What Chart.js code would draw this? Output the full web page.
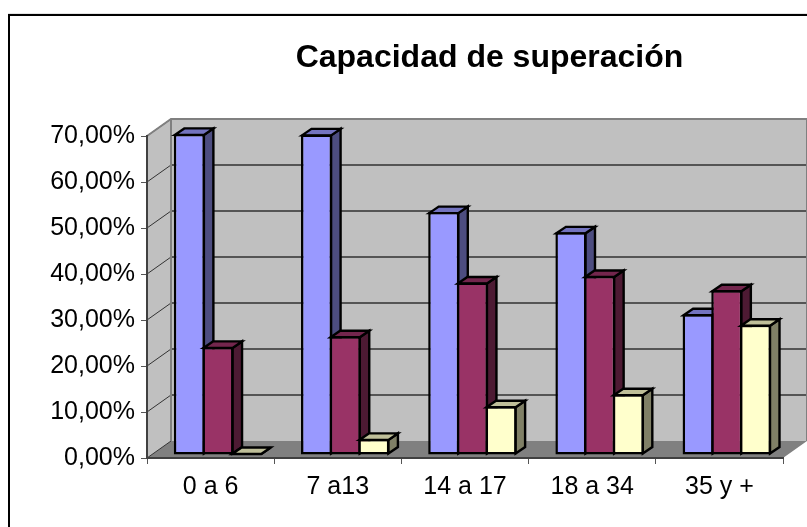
<!DOCTYPE html>
<html>
<head>
<meta charset="utf-8">
<title>Capacidad de superación</title>
<script src="https://cdn.jsdelivr.net/npm/chart.js@4/dist/chart.umd.min.js"></script>
<style>
  html, body { margin: 0; padding: 0; background: #fff; overflow: hidden; }
  canvas { display: block; }
</style>
</head>
<body>
<canvas id="chart" width="807" height="527"></canvas>
<script>
const categories = ['0 a 6', '7 a13', '14 a 17', '18 a 34', '35 y +'];
const serieA = [69.8, 69.7, 52.8, 48.4, 30.6];
const serieB = [23.5, 25.8, 37.5, 38.9, 35.8];
const serieC = [0, 3.5, 10.6, 13.2, 28.3];
const yTickLabels = ['0,00%', '10,00%', '20,00%', '30,00%', '40,00%', '50,00%', '60,00%', '70,00%'];

// ── 3D look: depth of the box and of the bars ──────────────
const WALL_DX = 24, WALL_DY = -17;
const BAR_SHIFT_X = 7.4, BAR_SHIFT_Y = -3;
const BAR_DX = 9.5, BAR_DY = -6.5;

function poly(ctx, pts, fill, stroke, lineWidth) {
  ctx.beginPath();
  pts.forEach((p, i) => i ? ctx.lineTo(p[0], p[1]) : ctx.moveTo(p[0], p[1]));
  ctx.closePath();
  if (fill) { ctx.fillStyle = fill; ctx.fill(); }
  if (stroke) { ctx.strokeStyle = stroke; ctx.lineWidth = lineWidth; ctx.stroke(); }
}

function drawBarFaces(ctx, meta, ds) {
  ctx.save();
  meta.data.forEach(bar => {
    const { x, y, base, width } = bar.getProps(['x', 'y', 'base', 'width']);
    const l = x - width / 2 + 1, r = x + width / 2 - 1, b = base - 1, t = Math.min(y + 1, b);
    poly(ctx, [[r, t], [r + BAR_DX, t + BAR_DY], [r + BAR_DX, b + BAR_DY], [r, b]], ds.sideColor, '#000', 2.4);
    poly(ctx, [[l, t], [l + BAR_DX, t + BAR_DY], [r + BAR_DX, t + BAR_DY], [r, t]], ds.topColor, '#000', 2.4);
  });
  ctx.restore();
}

const box3d = {
  id: 'box3d',
  beforeDraw(chart) {
    const { ctx, chartArea: a, scales: { y } } = chart;
    const bx = WALL_DX, by = WALL_DY;
    ctx.save();

    // frame, runs off the right and bottom of the picture
    ctx.strokeStyle = '#e4e4e4';
    ctx.lineWidth = 1;
    ctx.beginPath(); ctx.moveTo(8, 13.5); ctx.lineTo(807, 13.5); ctx.stroke();
    ctx.strokeStyle = '#000';
    ctx.lineWidth = 2;
    ctx.strokeRect(9, 15, 820, 540);

    // walls and floor
    poly(ctx, [[a.left, a.top], [a.left + bx, a.top + by], [a.left + bx, a.bottom + by], [a.left, a.bottom]], '#c0c0c0');
    poly(ctx, [[a.left + bx, a.top + by], [a.right + bx, a.top + by], [a.right + bx, a.bottom + by], [a.left + bx, a.bottom + by]], '#c0c0c0');
    poly(ctx, [[a.left, a.bottom], [a.left + bx, a.bottom + by], [a.right + bx, a.bottom + by], [a.right, a.bottom]], '#808080');

    // grid lines on the back wall, slanted on the side wall
    y.ticks.forEach(t => {
      const py = y.getPixelForValue(t.value);
      ctx.lineWidth = 1;
      ctx.strokeStyle = '#333';
      ctx.beginPath(); ctx.moveTo(a.left, py); ctx.lineTo(a.left + bx, py + by); ctx.stroke();
      if (t.value > 0 && t.value < y.max) {
        ctx.lineWidth = 2;
        ctx.strokeStyle = '#555';
        ctx.beginPath(); ctx.moveTo(a.left + bx, py + by); ctx.lineTo(a.right + bx, py + by); ctx.stroke();
      }
    });

    // wall edges
    ctx.lineWidth = 2;
    ctx.strokeStyle = '#808080';
    ctx.beginPath();
    ctx.moveTo(a.left, a.top); ctx.lineTo(a.left + bx, a.top + by);
    ctx.lineTo(a.right + bx, a.top + by);
    ctx.moveTo(a.left + bx, a.top + by); ctx.lineTo(a.left + bx, a.bottom + by);
    ctx.moveTo(a.right + bx, a.top + by); ctx.lineTo(a.right + bx, a.bottom + by);
    ctx.stroke();
    ctx.restore();
  },
  afterLayout(chart) {
    // title sits right of the plot centre
    chart.titleBlock.left = 174;
    chart.titleBlock.right = 805;
  },
  // series have to paint left to right so each bar covers the side of the previous one
  beforeDatasetsDraw(chart) {
    const { ctx } = chart;
    ctx.save();
    ctx.translate(BAR_SHIFT_X, BAR_SHIFT_Y);
    chart.data.datasets.forEach((ds, i) => {
      const meta = chart.getDatasetMeta(i);
      drawBarFaces(ctx, meta, ds);
      meta.controller.draw();
    });
    ctx.restore();
  },
  beforeDatasetDraw() {
    return false;
  },
};

new Chart(document.getElementById('chart'), {
  type: 'bar',
  plugins: [box3d],
  data: {
    labels: categories,
    datasets: [
      { label: 'A', data: serieA, backgroundColor: '#9999ff', sideColor: '#4d4d80', topColor: '#7373bf' },
      { label: 'B', data: serieB, backgroundColor: '#993366', sideColor: '#4d1a33', topColor: '#73264d' },
      { label: 'C', data: serieC, backgroundColor: '#ffffcc', sideColor: '#808066', topColor: '#bfbf99' },
    ],
  },
  options: {
    responsive: false,
    animation: false,
    layout: { padding: { top: 0, right: 24, bottom: 0, left: 0 } },
    datasets: {
      bar: {
        categoryPercentage: 0.676,
        barPercentage: 1.085,
        borderColor: '#000',
        borderWidth: 2.5,
        borderSkipped: false,
      },
    },
    plugins: {
      legend: { display: false },
      tooltip: { enabled: false },
      title: {
        display: true,
        text: 'Capacidad de superación',
        color: '#000',
        font: { family: '"Liberation Sans"', size: 32, weight: 'bold', lineHeight: 1.2 },
        padding: { top: 39, bottom: 58.6 },
      },
    },
    scales: {
      x: {
        afterFit: s => { s.height = 69; },
        grid: { drawOnChartArea: false, color: '#555', tickLength: 6, offset: true },
        border: { color: '#404040', width: 2 },
        ticks: { color: '#000', font: { family: '"Liberation Sans"', size: 25 }, padding: 8, maxRotation: 0 },
      },
      y: {
        min: 0,
        max: 70,
        afterFit: s => { s.width = 147; },
        grid: { drawOnChartArea: false, color: '#555', tickLength: 6 },
        border: { color: '#404040', width: 2 },
        ticks: {
          stepSize: 10,
          color: '#000',
          padding: 6,
          font: { family: '"Liberation Sans"', size: 25 },
          callback: (v, i) => yTickLabels[i],
        },
      },
    },
  },
});
</script>
</body>
</html>
